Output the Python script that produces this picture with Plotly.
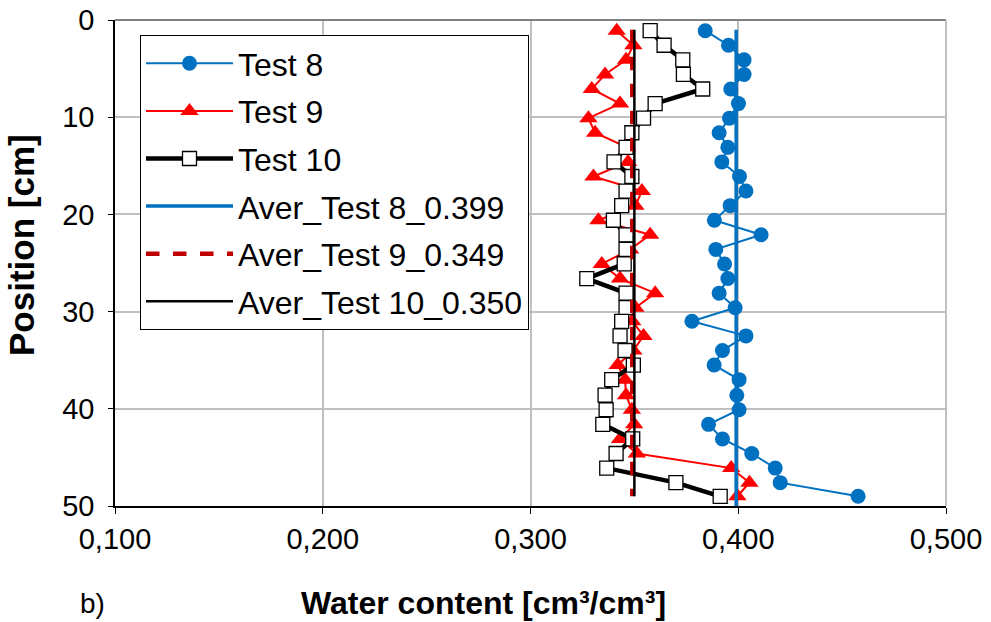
import plotly.graph_objects as go

depth_cm = [1.1, 2.6, 4.1, 5.6, 7.1, 8.6, 10.1, 11.6, 13.1, 14.6, 16.1, 17.6, 19.1, 20.6,
            22.1, 23.6, 25.1, 26.6, 28.1, 29.6, 31.0, 32.5, 34.0, 35.5, 37.0, 38.6, 40.1,
            41.6, 43.1, 44.6, 46.1, 47.6, 49.0]

test8 = [0.3841, 0.3953, 0.4028, 0.4028, 0.3964, 0.4001, 0.3958, 0.3908, 0.3950, 0.3921,
         0.4006, 0.4037, 0.3961, 0.3885, 0.4110, 0.3892, 0.3934, 0.3950, 0.3908, 0.3985,
         0.3777, 0.4037, 0.3924, 0.3884, 0.4004, 0.3993, 0.4004, 0.3857, 0.3924, 0.4065,
         0.4178, 0.4202, 0.4577]

test9 = [0.3415, 0.3495, 0.3460, 0.3359, 0.3295, 0.3431, 0.3279, 0.3311, 0.3465, 0.3470,
         0.3303, 0.3536, 0.3505, 0.3327, 0.3576, 0.3480, 0.3343, 0.3431, 0.3600, 0.3505,
         0.3490, 0.3544, 0.3495, 0.3420, 0.3455, 0.3460, 0.3488, 0.3499, 0.3431, 0.3512,
         0.3966, 0.4054, 0.3996]

test10 = [0.3576, 0.3643, 0.3733, 0.3736, 0.3829, 0.3600, 0.3544, 0.3488, 0.3460, 0.3402,
          0.3488, 0.3460, 0.3439, 0.3399, 0.3460, 0.3460, 0.3451, 0.3271, 0.3460, 0.3460,
          0.3439, 0.3431, 0.3455, 0.3495, 0.3391, 0.3359, 0.3364, 0.3348, 0.3492, 0.3412,
          0.3367, 0.3700, 0.3913]

avg8, avg9, avg10 = 0.399, 0.349, 0.350
avg8_depth = [1.0, 50.0]
avg9_depth = [1.0, 49.0]
avg10_depth = [1.0, 49.0]

x_ticks = [0.1, 0.2, 0.3, 0.4, 0.5]
x_ticklabels = ["0,100", "0,200", "0,300", "0,400", "0,500"]
y_ticks = [0, 10, 20, 30, 40, 50]

FONT = "Liberation Sans, Arial, sans-serif"

fig = go.Figure()
fig.add_trace(go.Scatter(x=test8, y=depth_cm, name="Test 8", mode="lines+markers",
                         line=dict(color="#0070C0", width=2),
                         marker=dict(symbol="circle", size=15, color="#0070C0"),
                         legendgroup="a"))
fig.add_trace(go.Scatter(x=test9, y=depth_cm, name="Test 9", mode="lines+markers",
                         line=dict(color="#FF0000", width=2),
                         marker=dict(symbol="triangle-up", size=16, color="#FF0000"),
                         legendgroup="b"))
fig.add_trace(go.Scatter(x=test10, y=depth_cm, name="Test 10", mode="lines+markers",
                         line=dict(color="#000000", width=4.5),
                         marker=dict(symbol="square", size=14, color="#FFFFFF",
                                     line=dict(color="#000000", width=1.3)),
                         legendgroup="c"))
fig.add_trace(go.Scatter(x=[avg8, avg8], y=avg8_depth, name="Aver_Test 8_0.399", mode="lines",
                         line=dict(color="#0070C0", width=3.5), legendgroup="d"))
fig.add_trace(go.Scatter(x=[avg9, avg9], y=avg9_depth, name="Aver_Test 9_0.349", mode="lines",
                         line=dict(color="#C00000", width=4.5, dash="dash"), legendgroup="e"))
fig.add_trace(go.Scatter(x=[avg10, avg10], y=avg10_depth, name="Aver_Test 10_0.350", mode="lines",
                         line=dict(color="#000000", width=2.5), legendgroup="f"))

fig.update_layout(
    width=991, height=622,
    margin=dict(l=115, r=45, t=20, b=116, autoexpand=False),
    paper_bgcolor="white", plot_bgcolor="white",
    font=dict(family=FONT, size=28, color="black"),
    showlegend=True,
    legend=dict(x=(140 - 115) / 831, y=(506 - 35) / 486, xanchor="left", yanchor="top",
                bgcolor="white", bordercolor="black", borderwidth=1,
                font=dict(family=FONT, size=32), tracegroupgap=3,
                itemwidth=87),
    xaxis=dict(range=[0.1, 0.5], tickvals=x_ticks, ticktext=x_ticklabels,
               showgrid=True, gridcolor="#C0C0C0", gridwidth=2,
               showline=True, linecolor="black", linewidth=1.5,
               ticks="outside", ticklen=6, tickcolor="black",
               tickfont=dict(size=29), zeroline=False, automargin=False),
    yaxis=dict(range=[50, 0], tickvals=y_ticks,
               showgrid=True, gridcolor="#C0C0C0", gridwidth=2,
               showline=True, linecolor="black", linewidth=1.5,
               ticks="outside", ticklen=5, tickcolor="black",
               tickfont=dict(size=29), zeroline=False, automargin=False,
               ticklabelstandoff=8),
    shapes=[
        dict(type="line", xref="paper", yref="paper", x0=0, x1=1, y0=1, y1=1,
             line=dict(color="#808080", width=2)),
        dict(type="line", xref="paper", yref="paper", x0=1, x1=1, y0=0, y1=1,
             line=dict(color="#C0C0C0", width=2)),
    ],
    annotations=[
        dict(text="<b>Water content [cm³/cm³]</b>", xref="paper", yref="paper",
             x=(483 - 115) / 831, y=-(603 - 506) / 486, xanchor="center", yanchor="middle",
             showarrow=False, font=dict(size=32)),
        dict(text="<b>Position [cm]</b>", xref="paper", yref="paper",
             x=-(115 - 22) / 831, y=(506 - 245) / 486, xanchor="center", yanchor="middle",
             textangle=-90, showarrow=False, font=dict(size=35)),
        dict(text="b)", xref="paper", yref="paper", x=-(115 - 78) / 831, y=-(603 - 506) / 486,
             xanchor="left", yanchor="middle", showarrow=False, font=dict(size=28)),
    ],
)

fig.write_html("out.html", config={"displayModeBar": False},
               post_script="document.body.style.margin='0';document.body.style.overflow='hidden';")
